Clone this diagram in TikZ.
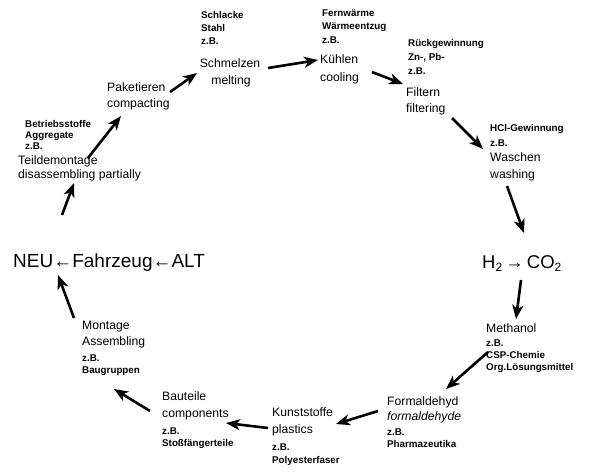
\documentclass[tikz,border=0pt]{standalone}
\usepackage{fontspec}
\setmainfont{Liberation Sans}
\usetikzlibrary{arrows.meta}
\tikzset{
  lab/.style={inner sep=0pt, anchor=base west, font=\fontsize{12.2}{14}\selectfont},
  labc/.style={inner sep=0pt, anchor=base, font=\fontsize{12.2}{14}\selectfont},
  sml/.style={inner sep=0pt, anchor=base west, font=\fontsize{9.8}{11}\selectfont\bfseries},
  big/.style={inner sep=0pt, anchor=base west, font=\fontsize{19}{22}\selectfont},
  flow/.style={line width=2.6pt, -{Stealth[length=14pt,width=11pt,inset=4pt]}},
}
\begin{document}
\begin{tikzpicture}[x=1pt,y=-1pt]
\fill[white] (0,0) rectangle (596,472);
\useasboundingbox (0,0) rectangle (596,472);

% Schmelzen
\node[sml] (schlacke) at (201,18) {Schlacke};
\node[sml] (stahl) at (201,31) {Stahl};
\node[sml] (zb1) at (201,44) {z.B.};
\node[labc] (schmelzen) at (230,67) {Schmelzen};
\node[labc] (melting) at (231,84) {melting};

% Kuehlen
\node[sml] (fernw) at (322,16) {Fernwärme};
\node[sml] (waermee) at (322,29) {Wärmeentzug};
\node[sml] (zb2) at (322,43) {z.B.};
\node[lab] (kuehlen) at (320,63) {Kühlen};
\node[lab] (cooling) at (320,81) {cooling};

% Filtern
\node[sml] (rueckg) at (408,46) {Rückgewinnung};
\node[sml] (znpb) at (408,60) {Zn-, Pb-};
\node[sml] (zb3) at (408,74) {z.B.};
\node[lab] (filtern) at (406,96) {Filtern};
\node[lab] (filtering) at (406,112) {filtering};

% Waschen
\node[sml] (hcl) at (490,131) {HCl-Gewinnung};
\node[sml] (zb4) at (490,146) {z.B.};
\node[lab] (waschen) at (490,161) {Waschen};
\node[lab] (washing) at (490,178) {washing};

% H2 -> CO2
\node[inner sep=0pt, anchor=base west, font=\fontsize{18.5}{20}\selectfont] (hco) at (482,268)
  {H\raisebox{-0.35ex}{\fontsize{12}{12}\selectfont 2}\,→\,CO\raisebox{-0.35ex}{\fontsize{12}{12}\selectfont 2}};

% Methanol
\node[lab] (methanol) at (486,332) {Methanol};
\node[sml] (zb5) at (486,346) {z.B.};
\node[sml] (csp) at (486,358) {CSP-Chemie};
\node[sml] (orgl) at (486,370) {Org.Lösungsmittel};

% Formaldehyd
\node[lab] (formald) at (387,405) {Formaldehyd};
\node[lab] (formalde) at (387,420) {\itshape formaldehyde};
\node[sml] (zb6) at (387,435) {z.B.};
\node[sml] (pharma) at (387,447) {Pharmazeutika};

% Kunststoffe
\node[lab] (kunst) at (272,416) {Kunststoffe};
\node[lab] (plastics) at (272,433) {plastics};
\node[sml] (zb7) at (272,450) {z.B.};
\node[sml] (polyester) at (272,463) {Polyesterfaser};

% Bauteile
\node[lab] (bauteile) at (162,400) {Bauteile};
\node[lab] (components) at (162,417) {components};
\node[sml] (zb8) at (162,434) {z.B.};
\node[sml] (stoss) at (162,446) {Stoßfängerteile};

% Montage
\node[lab] (montage) at (82,329) {Montage};
\node[lab] (assembling) at (82,345) {Assembling};
\node[sml] (zb9) at (82,361) {z.B.};
\node[sml] (baugr) at (82,373) {Baugruppen};

% Fahrzeug
\node[big] (fahrzeug) at (13,267) {NEU←Fahrzeug←ALT};

% Teildemontage
\node[sml] (betrieb) at (25,127) {Betriebsstoffe};
\node[sml] (aggr) at (25,138) {Aggregate};
\node[sml] (zb10) at (25,149) {z.B.};
\node[lab] (teildem) at (18,164) {Teildemontage};
\node[lab] (disass) at (18,178) {disassembling partially};

% Paketieren
\node[lab] (paket) at (107,91) {Paketieren};
\node[lab] (compact) at (107,107) {compacting};

% arrow end points
\coordinate (a1s) at (170,92);  \coordinate (a1e) at (197,73);
\coordinate (a2s) at (268,68);  \coordinate (a2e) at (318,60);
\coordinate (a3s) at (372,72);  \coordinate (a3e) at (403,84);
\coordinate (a4s) at (452,118); \coordinate (a4e) at (483,149);
\coordinate (a5s) at (507,186); \coordinate (a5e) at (524,233);
\coordinate (a6s) at (521,280); \coordinate (a6e) at (516,319);
\coordinate (a7s) at (488,352); \coordinate (a7e) at (446,389);
\coordinate (a8s) at (378,411); \coordinate (a8e) at (336,424);
\coordinate (a9s) at (268,428); \coordinate (a9e) at (226,423);
\coordinate (a10s) at (150,411); \coordinate (a10e) at (114,389);
\coordinate (a11s) at (74,318); \coordinate (a11e) at (58,275);
\coordinate (a12s) at (62,215); \coordinate (a12e) at (74,183);
\coordinate (a13s) at (88,158); \coordinate (a13e) at (121,116);

\foreach \i in {1,...,13}{\draw[flow] (a\i s) -- (a\i e);}
\end{tikzpicture}
\end{document}
